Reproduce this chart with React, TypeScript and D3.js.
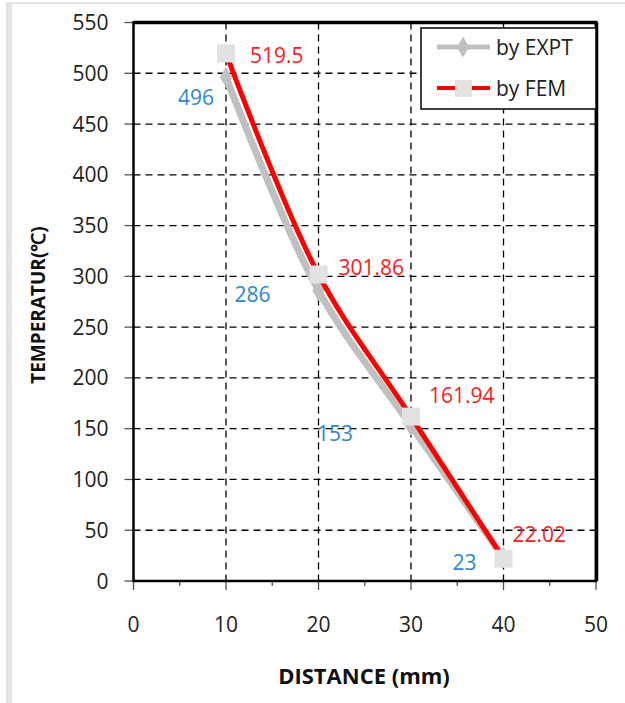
import React from "react";
import * as d3 from "d3";

const distances = [10, 20, 30, 40];
const exptValues = [496, 286, 153, 23];
const femValues = [519.5, 301.86, 161.94, 22.02];
const femLabels = ["519.5", "301.86", "161.94", "22.02"];
const exptLabels = ["496", "286", "153", "23"];
const xTicks = [0, 10, 20, 30, 40, 50];
const xMinorTicks = [5, 15, 25, 35, 45];
const yTicks = [0, 50, 100, 150, 200, 250, 300, 350, 400, 450, 500, 550];

// manual label nudges (Excel labels were dragged by hand)
const femLabelOffset = [[24, 2], [20, -7], [18, -21], [9, -24]];
const exptLabelOffset = [[-12, 20], [-48, 4], [-58, 8], [-27, 5]];

const W = 625;
const H = 703;
const FONT = "'Open Sans', 'Liberation Sans', sans-serif";

export default function App() {
  const x = d3.scaleLinear().domain([0, 50]).range([133.5, 596]);
  const y = d3.scaleLinear().domain([0, 550]).range([581, 22.5]);

  const line = d3
    .line<number>()
    .x((_, i) => x(distances[i]))
    .y((d) => y(d))
    .curve(d3.curveCatmullRom.alpha(0.5));

  const [x0, x1] = x.range();
  const [y0, y1] = y.range();

  return (
    <svg width={W} height={H} style={{ position: "absolute", left: 0, top: 0, background: "#fff" }}>
      {/* outer frame */}
      <rect x={6} y={2} width={W} height={2} fill="#e3e3e3" />
      <rect x={6} y={2} width={6} height={H} fill="#e3e3e3" />

      {/* grid */}
      {yTicks.slice(1, -1).map((t) => (
        <line key={"gy" + t} x1={x0} x2={x1} y1={y(t)} y2={y(t)} stroke="#000" strokeWidth={1.3} strokeDasharray="7,5" />
      ))}
      {xTicks.slice(1, -1).map((t) => (
        <line key={"gx" + t} x1={x(t)} x2={x(t)} y1={y1} y2={y0} stroke="#000" strokeWidth={1.3} strokeDasharray="7,5" />
      ))}

      {/* y ticks */}
      {yTicks.map((t) => (
        <g key={"yt" + t}>
          <line x1={x0 - 9} x2={x0} y1={y(t)} y2={y(t)} stroke="#555" strokeWidth={1.3} />
          <text x={x0 - 25} y={y(t)} dy="0.36em" textAnchor="end" fontFamily={FONT} fontSize={21} fill="#222">
            {t}
          </text>
        </g>
      ))}
      {/* x ticks */}
      {xTicks.map((t) => (
        <g key={"xt" + t}>
          <line x1={x(t)} x2={x(t)} y1={y0} y2={y0 + 9} stroke="#555" strokeWidth={1.3} />
          <text x={x(t)} y={624} dy="0.36em" textAnchor="middle" fontFamily={FONT} fontSize={21} fill="#222">
            {t}
          </text>
        </g>
      ))}
      {xMinorTicks.map((t) => (
        <line key={"xm" + t} x1={x(t)} x2={x(t)} y1={y0} y2={y0 + 5} stroke="#555" strokeWidth={1.3} />
      ))}

      {/* plot border */}
      <rect x={x0} y={y1} width={x1 - x0} height={y0 - y1} fill="none" stroke="#000" strokeWidth={2.5} />
      <line x1={x0} x2={x1 + 1.5} y1={y1} y2={y1} stroke="#000" strokeWidth={3.5} />
      <line x1={x1 + 0.5} x2={x1 + 0.5} y1={y1} y2={y0} stroke="#000" strokeWidth={3.5} />

      {/* series */}
      <path d={line(exptValues) ?? ""} fill="none" stroke="#c0c0c0" strokeWidth={7} strokeLinejoin="round" />
      {exptValues.map((v, i) => (
        <path
          key={"dm" + i}
          d={d3.symbol(d3.symbolDiamond, 130)() ?? ""}
          transform={`translate(${x(distances[i])},${y(v)})`}
          fill="#c0c0c0"
        />
      ))}
      <path d={line(femValues) ?? ""} fill="none" stroke="#ff0000" strokeWidth={5} strokeLinejoin="round" />
      {femValues.map((v, i) => (
        <rect key={"sq" + i} x={x(distances[i]) - 9} y={y(v) - 9} width={18} height={18} fill="#e2e2e2" />
      ))}

      {/* data labels */}
      {femValues.map((v, i) => (
        <text
          key={"fl" + i}
          x={x(distances[i]) + femLabelOffset[i][0]}
          y={y(v) + femLabelOffset[i][1]}
          dy="0.36em"
          fontFamily={FONT}
          fontSize={21}
          fill="#ff1a1a"
        >
          {femLabels[i]}
        </text>
      ))}
      {exptValues.map((v, i) => (
        <text
          key={"el" + i}
          x={x(distances[i]) + exptLabelOffset[i][0]}
          y={y(v) + exptLabelOffset[i][1]}
          dy="0.36em"
          textAnchor="end"
          fontFamily={FONT}
          fontSize={21}
          fill="#2f86d2"
        >
          {exptLabels[i]}
        </text>
      ))}

      {/* legend */}
      <rect x={421} y={28} width={175} height={81} fill="#fff" stroke="#000" strokeWidth={1.5} />
      <line x1={437} x2={490} y1={47} y2={47} stroke="#c0c0c0" strokeWidth={5} />
      <path d={d3.symbol(d3.symbolDiamond, 130)() ?? ""} transform="translate(463,47)" fill="#c0c0c0" />
      <text x={496} y={47} dy="0.36em" fontFamily={FONT} fontSize={21} fill="#222">
        by EXPT
      </text>
      <line x1={437} x2={490} y1={88} y2={88} stroke="#ff0000" strokeWidth={4} />
      <rect x={455} y={80} width={17} height={17} fill="#e2e2e2" />
      <text x={496} y={88} dy="0.36em" fontFamily={FONT} fontSize={21} fill="#222">
        by FEM
      </text>

      {/* axis titles */}
      <text x={364} y={676} dy="0.36em" textAnchor="middle" fontFamily={FONT} fontSize={22} fontWeight="bold" fill="#111">
        DISTANCE (mm)
      </text>
      <text
        transform="translate(38,305) rotate(-90)"
        dy="0.36em"
        textAnchor="middle"
        fontFamily={FONT}
        fontSize={19}
        fontWeight="bold"
        fill="#111"
      >
        TEMPERATUR(℃)
      </text>
    </svg>
  );
}
